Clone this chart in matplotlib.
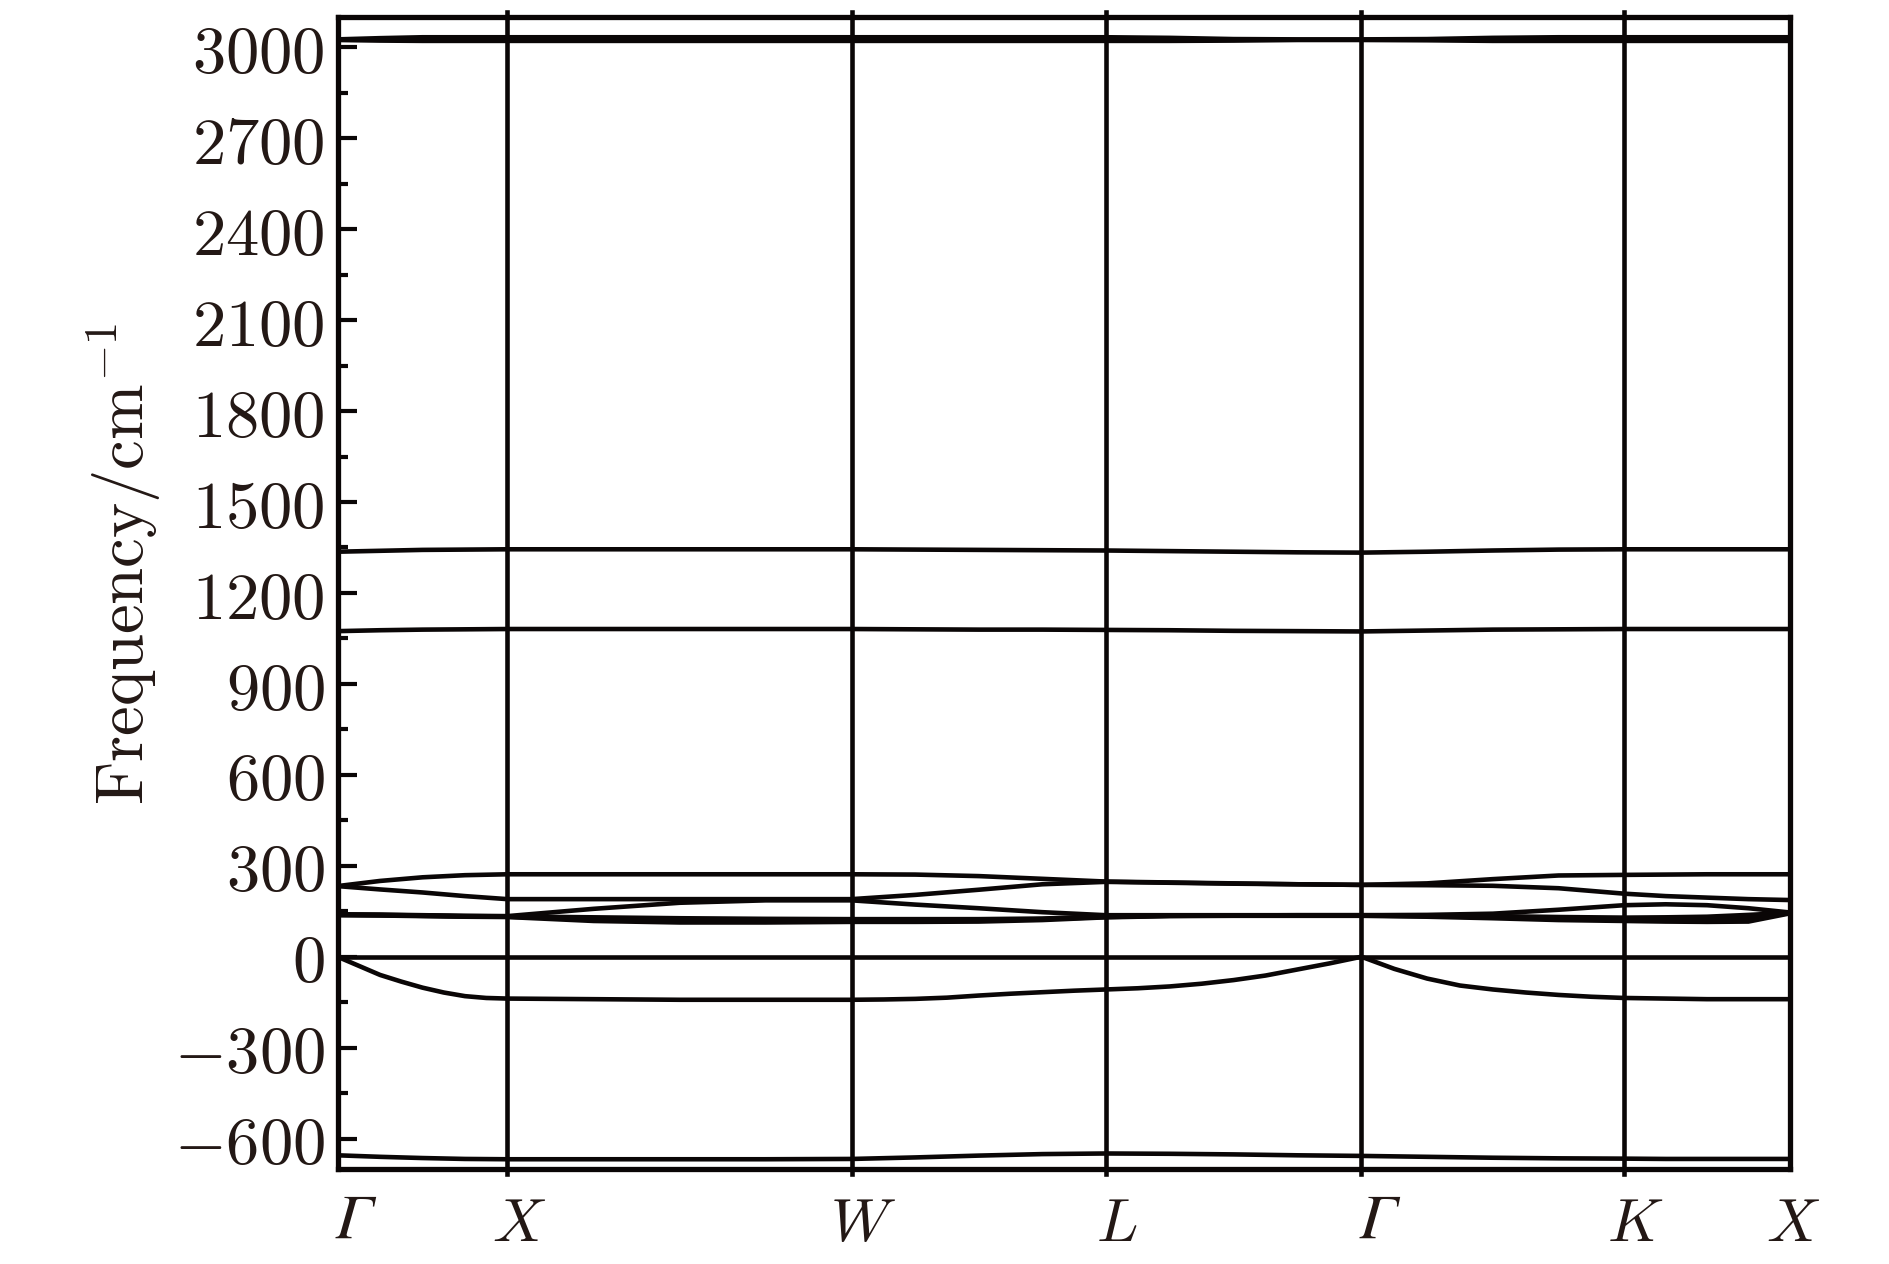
import numpy as np
import matplotlib
matplotlib.use('Agg')
import matplotlib.pyplot as plt
import matplotlib.transforms as mtransforms
from matplotlib.ticker import MultipleLocator

plt.rcParams['mathtext.fontset'] = 'cm'
plt.rcParams['font.family'] = ['DejaVu Serif']

# high-symmetry points along the path (relative distance)
kpt_labels = ['Γ', r'$X$', r'$W$', r'$L$', 'Γ', r'$K$', r'$X$']
kpt_pos = [0.0, 0.117, 0.354, 0.529, 0.705, 0.886, 1.0]

# frequencies in cm^-1, 4 samples per segment (25 values): G-X-W-L-G-K-X
top_a = [3024, 3022, 3021, 3021, 3021, 3021, 3021, 3021, 3021, 3021, 3021, 3021, 3021,
         3021, 3022, 3024, 3024, 3023, 3021, 3021, 3021, 3021, 3021, 3021, 3021]
top_b = [3026, 3030, 3033, 3033, 3033, 3033, 3033, 3033, 3033, 3033, 3033, 3033, 3033,
         3031, 3027, 3026, 3026, 3027, 3031, 3033, 3033, 3033, 3033, 3033, 3033]
band_1340 = [1336, 1339, 1342, 1343, 1344, 1344, 1344, 1344, 1344, 1343, 1342, 1341, 1340,
             1338, 1336, 1334, 1333, 1336, 1340, 1343, 1344, 1344, 1344, 1344, 1344]
band_1080 = [1074, 1077, 1079, 1080, 1081, 1081, 1081, 1081, 1081, 1080, 1079, 1079, 1078,
             1077, 1075, 1074, 1073, 1076, 1079, 1080, 1081, 1081, 1081, 1081, 1081]
low_6 = [233, 250, 262, 269, 272, 272, 272, 272, 272, 271, 266, 257, 248,
         245, 242, 239, 237, 242, 256, 268, 270, 271, 272, 272, 272]
low_5 = [233, 222, 212, 200, 190, 190, 190, 190, 190, 204, 221, 239, 247,
         244, 241, 239, 237, 236, 234, 226, 208, 200, 195, 190, 187]
low_4 = [140, 139, 137, 135, 134, 158, 178, 186, 186, 172, 160, 147, 137,
         137, 137, 137, 137, 138, 142, 155, 170, 173, 170, 160, 146]
low_3 = [139, 138, 136, 134, 133, 130, 127, 125, 124, 124, 124, 126, 133,
         136, 136, 137, 137, 136, 134, 131, 129, 130, 132, 138, 145]
low_2 = [138, 137, 135, 133, 132, 124, 120, 119, 119, 119, 120, 124, 131,
         135, 136, 136, 136, 134, 130, 127, 125, 124, 124, 125, 144]
low_1 = [137, 136, 134, 132, 131, 118, 113, 113, 115, 115, 116, 121, 130,
         134, 135, 135, 135, 132, 127, 121, 118, 116, 115, 116, 143]
zero_band = [0] * 25
bottom_band = [-655, -660, -664, -667, -668, -668, -668, -668, -667, -662, -656, -651, -649,
               -650, -652, -655, -657, -660, -663, -665, -666, -667, -667, -667, -667]

# curved lower branch, 8 samples per segment (49 values)
neg_band = [0, -30, -60, -82, -102, -118, -130, -136, -138,
            -139, -140, -141, -142, -142, -142, -142, -142,
            -141, -139, -135, -128, -122, -117, -112, -108,
            -104, -98, -89, -77, -62, -42, -22, 0,
            -40, -72, -95, -108, -118, -126, -132, -136,
            -137, -138, -139, -140, -140, -140, -140, -140]

coarse_bands = [top_a, top_b, band_1340, band_1080, low_6, low_5, low_4, low_3,
                low_2, low_1, zero_band, bottom_band]
fine_bands = [neg_band]


def kgrid(n):
    k = [kpt_pos[0]]
    for a, b in zip(kpt_pos[:-1], kpt_pos[1:]):
        k += list(np.linspace(a, b, n + 1)[1:])
    return k


k4 = kgrid(4)
k8 = kgrid(8)

line_c = '#0a0606'
text_c = '#231815'

fig = plt.figure(figsize=(18.9, 12.64), dpi=100)
ax = fig.add_axes([0.1786, 0.0752, 0.9470 - 0.1786, 0.9866 - 0.0752])

for b in coarse_bands:
    ax.plot(k4, b, color=line_c, lw=3.3, solid_joinstyle='round')
for b in fine_bands:
    ax.plot(k8, b, color=line_c, lw=3.3, solid_joinstyle='round')

for p in kpt_pos[1:-1]:
    ax.axvline(p, ymin=-0.004, ymax=1.004, color=line_c, lw=3.3, clip_on=False)

ax.set_xlim(0, 1)
ax.set_ylim(-700, 3100)

# k-point labels drawn as text (slightly right of each line, as in the original)
ax.set_xticks([])
for i, (p, lab) in enumerate(zip(kpt_pos, kpt_labels)):
    dx = 8 / 72
    kw = dict(fontsize=44)
    if lab == 'Γ':
        kw = dict(fontsize=46, family='STIXGeneral', style='italic')
        dx = 12 / 72
    if i == len(kpt_pos) - 1:
        dx = 2 / 72
    tr = ax.get_xaxis_transform() + mtransforms.ScaledTranslation(dx, -18 / 72, fig.dpi_scale_trans)
    ax.text(p, 0, lab, transform=tr, ha='center', va='top', color=text_c, **kw)

yt = list(range(-600, 3001, 300))
ax.set_yticks(yt)
ax.set_yticklabels([f'${v}$' for v in yt], fontsize=48, color=text_c)
ax.yaxis.set_minor_locator(MultipleLocator(150))
ax.tick_params(axis='y', which='major', direction='in', length=14, width=3.0, pad=9,
               right=False, color=line_c)
ax.tick_params(axis='y', which='minor', direction='in', length=7, width=3.0,
               right=False, color=line_c)

ax.set_ylabel(r'$\mathrm{Frequency/cm}^{-1}$', fontsize=48, color=text_c)
ax.yaxis.set_label_coords(-0.12, 0.525)

for s in ax.spines.values():
    s.set_linewidth(3.8)
    s.set_color(line_c)

fig.savefig('out.png', dpi=100)
